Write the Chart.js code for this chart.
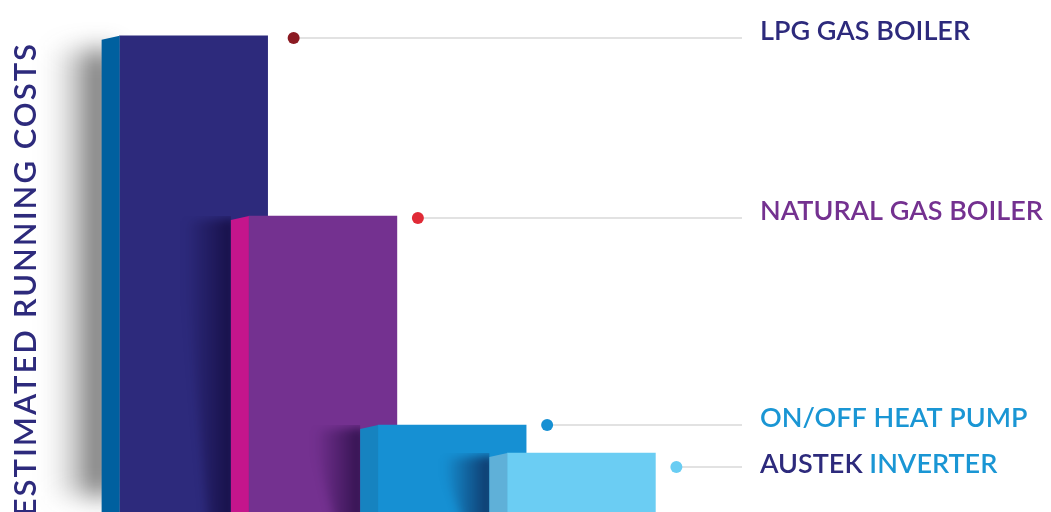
<!DOCTYPE html>
<html>
<head>
<meta charset="utf-8">
<script src="https://cdn.jsdelivr.net/npm/chart.js@4"></script>
<style>
html,body{margin:0;padding:0;background:#fff;}
#wrap{width:1051px;height:512px;position:relative;}
</style>
</head>
<body>
<div id="wrap"><canvas id="c" width="1051" height="512"></canvas></div>
<script>
// ---- data ----
const categories = ['LPG GAS BOILER', 'NATURAL GAS BOILER', 'ON/OFF HEAT PUMP', 'AUSTEK INVERTER'];
const runningCosts = [93.0, 57.8, 17.0, 11.5];
const leaderLevels = [92.6, 57.4, 17.0, 8.8];
const axisTitle = 'ESTIMATED RUNNING COSTS';
// label parts: [text, colour]
const labelParts = [
  [['LPG GAS BOILER', '#2d2a7c']],
  [['NATURAL GAS BOILER', '#743190']],
  [['ON/OFF HEAT PUMP', '#1a96d4']],
  [['AUSTEK ', '#2d2a7c'], ['INVERTER', '#1a96d4']]
];
const frontColors = ['#2d2a7c', '#743190', '#1690d3', '#6bcdf3'];
const sideColors = ['#00609f', '#c5158c', '#1683c0', '#5fb0d8'];
const dotColors = ['#8b1a22', '#e02a36', '#1690d3', '#69cdf3'];

const FONT = 'Lato, "Open Sans", sans-serif';
const SIDE = 18;

const decor = {
  id: 'decor',
  beforeDatasetsDraw(chart) {
    const ctx = chart.ctx;
    const bars = chart.getDatasetMeta(0).data;
    const b = bars[0];
    const left = b.x - b.width / 2 - SIDE;
    ctx.save();
    ctx.filter = 'blur(12px)';
    const g = ctx.createLinearGradient(left - 50, 0, left, 0);
    g.addColorStop(0, 'rgba(60,60,60,0)');
    g.addColorStop(0.6, 'rgba(60,60,60,0.35)');
    g.addColorStop(1, 'rgba(40,40,40,0.75)');
    ctx.fillStyle = g;
    ctx.fillRect(left - 50, b.y + 14, 60, chart.height - b.y - 30);
    ctx.restore();
  },
  afterDatasetsDraw(chart) {
    const ctx = chart.ctx;
    const bars = chart.getDatasetMeta(0).data;
    const bottom = chart.chartArea.bottom + 20;
    bars.forEach((b, i) => {
      const fl = b.x - b.width / 2;
      const sl = fl - SIDE;
      // shadow cast onto previous bar
      if (i > 0) {
        const p = bars[i - 1];
        ctx.save();
        ctx.beginPath();
        ctx.rect(p.x - p.width / 2, Math.max(p.y, b.y), sl - (p.x - p.width / 2), bottom);
        ctx.clip();
        ctx.filter = 'blur(5px)';
        const g = ctx.createLinearGradient(sl - 45, 0, sl, 0);
        g.addColorStop(0, 'rgba(10,0,40,0)');
        g.addColorStop(1, 'rgba(10,0,40,0.6)');
        ctx.fillStyle = g;
        ctx.beginPath();
        ctx.moveTo(sl - 50, b.y + 6);
        ctx.lineTo(sl + 5, b.y + 2);
        ctx.lineTo(sl + 5, bottom);
        ctx.lineTo(sl - 22, bottom);
        ctx.closePath();
        ctx.fill();
        ctx.restore();
      }
      // side face
      ctx.save();
      ctx.fillStyle = sideColors[i];
      ctx.beginPath();
      ctx.moveTo(sl, b.y + 4);
      ctx.lineTo(fl, b.y);
      ctx.lineTo(fl, bottom);
      ctx.lineTo(sl, bottom);
      ctx.closePath();
      ctx.fill();
      ctx.restore();
    });
    // leader lines, dots, labels
    const ys = chart.scales.y;
    const xEnd = chart.chartArea.right + 96;
    const xLabel = chart.chartArea.right + 114;
    bars.forEach((b, i) => {
      const y = ys.getPixelForValue(leaderLevels[i]);
      const dx = b.x + b.width / 2 + (i === 0 ? 26 : 21);
      ctx.save();
      ctx.strokeStyle = '#e2e2e2';
      ctx.lineWidth = 2;
      ctx.beginPath();
      ctx.moveTo(dx, y);
      ctx.lineTo(xEnd, y);
      ctx.stroke();
      ctx.fillStyle = dotColors[i];
      ctx.beginPath();
      ctx.arc(dx, y, 6, 0, Math.PI * 2);
      ctx.fill();
      ctx.font = '600 27px ' + FONT;
      ctx.textBaseline = 'middle';
      ctx.textAlign = 'left';
      let x = xLabel;
      const ty = y - (i === 3 ? 3 : 7);
      labelParts[i].forEach(([t, c]) => {
        ctx.fillStyle = c;
        ctx.fillText(t, x, ty);
        x += ctx.measureText(t).width;
      });
      ctx.restore();
    });
    // axis title
    ctx.save();
    ctx.translate(26, 42);
    ctx.rotate(-Math.PI / 2);
    ctx.font = '600 31px ' + FONT;
    ctx.letterSpacing = '2px';
    ctx.fillStyle = '#2d2a7c';
    ctx.textAlign = 'right';
    ctx.textBaseline = 'middle';
    ctx.fillText(axisTitle, 0, 0);
    ctx.restore();
  }
};

new Chart(document.getElementById('c'), {
  type: 'bar',
  data: {
    labels: categories,
    datasets: [{
      data: runningCosts,
      backgroundColor: frontColors,
      borderWidth: 0,
      barThickness: 148,
      clip: false
    }]
  },
  options: {
    responsive: false,
    animation: false,
    devicePixelRatio: 1,
    layout: { padding: { left: 129, right: 405, top: 0, bottom: 0 } },
    plugins: { legend: { display: false }, tooltip: { enabled: false } },
    scales: {
      x: { display: false },
      y: { display: false, min: 0, max: 100 }
    }
  },
  plugins: [decor]
});
</script>
</body>
</html>
